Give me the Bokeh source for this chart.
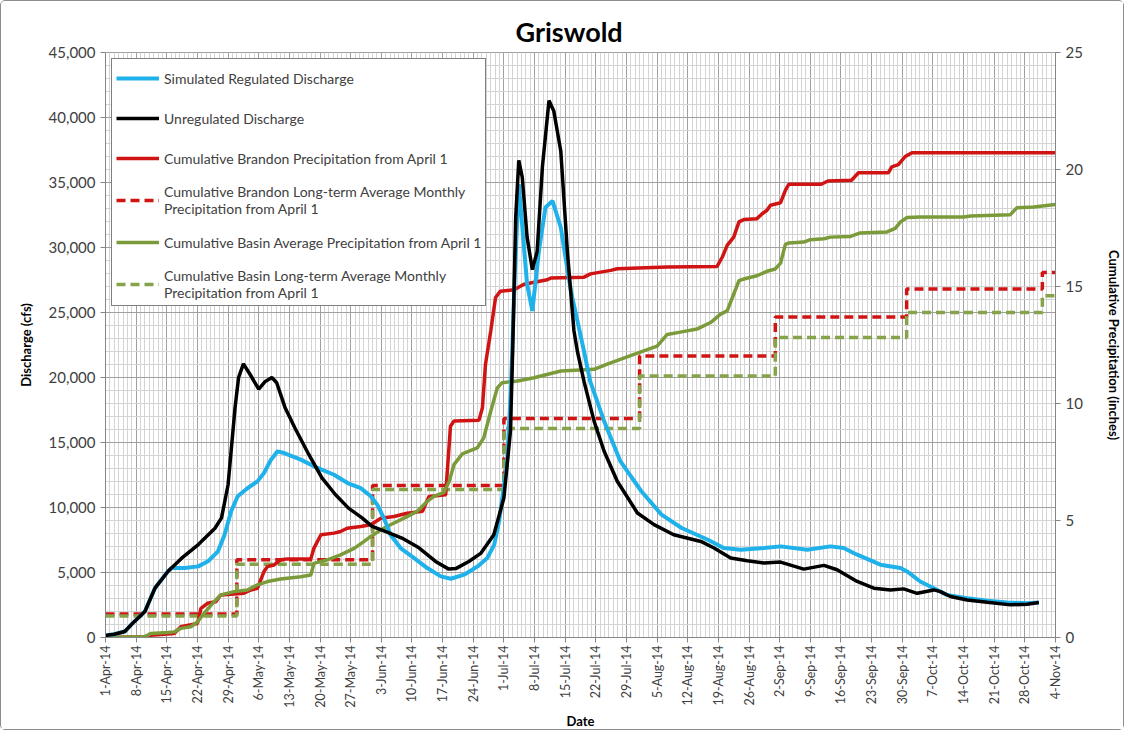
import math
from bokeh.plotting import figure
from bokeh.models import (Range1d, LinearAxis, FixedTicker, SingleIntervalTicker,
                          NumeralTickFormatter, Legend, LegendItem)
from bokeh.embed import file_html
from bokeh.resources import INLINE

# ---------------- data (x = days since 1-Apr-2014) ----------------
DATE_LABELS = ["1-Apr-14", "8-Apr-14", "15-Apr-14", "22-Apr-14", "29-Apr-14", "6-May-14",
               "13-May-14", "20-May-14", "27-May-14", "3-Jun-14", "10-Jun-14", "17-Jun-14",
               "24-Jun-14", "1-Jul-14", "8-Jul-14", "15-Jul-14", "22-Jul-14", "29-Jul-14",
               "5-Aug-14", "12-Aug-14", "19-Aug-14", "26-Aug-14", "2-Sep-14", "9-Sep-14",
               "16-Sep-14", "23-Sep-14", "30-Sep-14", "7-Oct-14", "14-Oct-14", "21-Oct-14",
               "28-Oct-14", "4-Nov-14"]

unreg_day = [0, 2, 4.4, 6.5, 9, 11.3, 14.3, 17.4, 21.2, 25, 26.5, 28, 29.6, 30.4, 31.5, 33, 35,
             36.5, 38, 39.1, 41, 43.3, 46.4, 49.4, 52.5, 55.5, 58.6, 60.9, 63.9, 67.7, 71.6,
             75.4, 78.4, 80, 83, 85.7, 88.7, 91, 92.5, 93, 93.7, 94.4, 95.2, 96.3, 97.5, 98.6,
             99.8, 101.3, 102.4, 104, 105.5, 107, 107.8, 109.3, 111.6, 113.9, 116.9, 121.5,
             125.3, 129.8, 136, 139, 142.8, 146.6, 150.4, 154.2, 159.5, 164.1, 167.1, 171.7,
             175.5, 179.3, 182.3, 185.4, 189.2, 190.7, 193, 196.8, 201.4, 206.7, 210.5, 213.2]
unreg_cfs = [150, 250, 460, 1200, 2000, 3800, 5100, 6100, 7150, 8400, 9200, 11750, 17700, 20000,
             21050, 20250, 19100, 19700, 20000, 19600, 17700, 16100, 14100, 12300, 11000, 9950,
             9200, 8550, 8170, 7650, 6900, 5850, 5260, 5300, 5850, 6470, 7900, 10730, 15870,
             22000, 32300, 36700, 35400, 30800, 28300, 29700, 36200, 41300, 40500, 37400, 29700,
             23600, 22000, 19700, 16640, 14330, 12020, 9580, 8680, 7900, 7390, 6880, 6110, 5910,
             5730, 5800, 5260, 5550, 5210, 4310, 3790, 3660, 3740, 3400, 3660, 3530, 3150, 2890,
             2710, 2510, 2560, 2690]

reg_day = [0, 2, 4.4, 6.5, 9, 11.3, 14.3, 15, 18.1, 21.2, 23.4, 25.7, 27.2, 28.7, 30.2, 32.5,
           34.7, 36.2, 37.8, 39.3, 40.8, 44.6, 47.6, 52.2, 55.3, 58.3, 60.6, 62.1, 63.6, 65.1,
           67.4, 70.5, 73.5, 76.6, 78.9, 81.9, 85, 87.2, 88.8, 89.9, 91.7, 92.6, 93.5, 94.4,
           96.3, 97.5, 99, 100.5, 102.1, 104, 106.3, 109.3, 110.7, 113.9, 117.6, 122.4, 127,
           131.6, 137.6, 141.2, 145.1, 150.4, 154.2, 160.3, 165.6, 168.6, 171.7, 177, 181.6,
           183.1, 186.1, 189.2, 192.2, 196.8, 201.4, 205.9, 210.5, 213.2]
reg_cfs = [150, 250, 460, 1200, 2000, 3800, 5100, 5340, 5340, 5470, 5860, 6630, 7910, 9710,
           10860, 11500, 12010, 12650, 13680, 14320, 14190, 13680, 13170, 12520, 11880, 11490,
           10860, 10200, 9170, 7900, 6880, 6110, 5340, 4700, 4520, 4830, 5470, 6110, 7140, 8930,
           13300, 19000, 28000, 34880, 27180, 25120, 29740, 33080, 33590, 31540, 26660, 22030,
           19720, 16640, 13560, 11250, 9450, 8420, 7520, 6880, 6750, 6880, 7010, 6750, 7010,
           6880, 6370, 5600, 5340, 5080, 4310, 3790, 3280, 3020, 2820, 2690, 2640, 2690]

brandon_day = [0, 9, 10.3, 15.7, 17.2, 21, 21.8, 23.3, 25.2, 26.3, 31.6, 33.2, 34.7, 36.2, 37,
               38.5, 40, 41.6, 46.9, 47.6, 49.2, 52.2, 53.7, 55.2, 58.3, 60.6, 62.9, 65.9, 68.9,
               72.4, 73.9, 77.7, 78.8, 79.6, 85.3, 86.1, 86.8, 88, 89.1, 90.2, 93.3, 95.6, 100.9,
               101.7, 109.3, 110.8, 115.4, 116.9, 128.3, 139.7, 140.9, 142, 143.5, 144.7, 145.8,
               148.8, 150, 151.1, 151.9, 154.2, 155.3, 156.1, 163.5, 165, 170.4, 172, 178.8,
               179.6, 181.1, 182.6, 184.2, 217]
brandon_in = [0, 0.03, 0.1, 0.17, 0.46, 0.6, 1.24, 1.46, 1.53, 1.82, 1.89, 2.03, 2.1, 2.82,
              3.03, 3.1, 3.32, 3.36, 3.36, 3.81, 4.39, 4.46, 4.53, 4.67, 4.74, 4.82, 5.1, 5.17,
              5.31, 5.39, 6.03, 6.1, 9.03, 9.25, 9.28, 9.82, 11.68, 13.1, 14.53, 14.8, 14.86,
              15.1, 15.29, 15.36, 15.4, 15.54, 15.69, 15.76, 15.83, 15.86, 16.26, 16.76, 17.11,
              17.76, 17.86, 17.9, 18.11, 18.26, 18.47, 18.58, 19.11, 19.37, 19.37, 19.51, 19.54,
              19.86, 19.86, 20.11, 20.21, 20.54, 20.72, 20.72]

basin_day = [0, 9, 10.3, 14.2, 15.7, 17.2, 19.5, 21, 22.5, 24.8, 26.3, 29.4, 32.4, 34.7, 37,
             40, 44.6, 46.9, 47.6, 50.7, 53.7, 56.8, 59, 60.6, 62.9, 65.1, 68.2, 71.2, 73.5, 75,
             77.3, 78.5, 79.6, 81.5, 84.9, 86.4, 88, 89.5, 90.6, 94.1, 97.9, 104, 111.6, 114.6,
             117.6, 121.5, 126, 128.3, 131.3, 135.1, 138.2, 140.5, 142, 143.2, 144.7, 145.8,
             148.8, 151.1, 153, 154.2, 155.3, 156.1, 159.5, 161, 164.1, 165.6, 170.2, 172.4,
             178.5, 180.4, 181.6, 183.1, 186.1, 196, 197.6, 206.7, 208.2, 212, 217]
basin_in = [0, 0.03, 0.17, 0.21, 0.24, 0.39, 0.46, 0.67, 1.03, 1.53, 1.82, 1.96, 2.03, 2.25,
            2.39, 2.5, 2.6, 2.67, 3.17, 3.32, 3.53, 3.81, 4.1, 4.32, 4.6, 4.82, 5.1, 5.39, 5.82,
            6.03, 6.2, 6.67, 7.39, 7.85, 8.1, 8.53, 9.67, 10.67, 10.89, 10.96, 11.1, 11.39,
            11.46, 11.68, 11.89, 12.15, 12.45, 12.95, 13.05, 13.18, 13.46, 13.82, 13.96, 14.53,
            15.25, 15.32, 15.46, 15.65, 15.75, 16.0, 16.8, 16.86, 16.9, 17.0, 17.04, 17.11,
            17.14, 17.29, 17.33, 17.48, 17.76, 17.95, 17.97, 17.97, 18.01, 18.07, 18.37, 18.4,
            18.5]

# long-term average monthly precipitation, cumulative, stepping at each month start
month_day = [0, 30, 61, 91, 122, 153, 183, 214, 217]
brandon_lt_in = [1.0, 3.32, 6.50, 9.36, 12.03, 13.70, 14.89, 15.60, 15.60]
basin_lt_in = [0.92, 3.13, 6.32, 8.93, 11.17, 12.82, 13.89, 14.60, 14.60]

# ---------------- styling ----------------
FONT = "Lato"
C_REG = "#1EB1EA"
C_UNREG = "#000000"
C_RED = "#D01414"
C_GREEN = "#7B9B3A"
C_GREEN_D = "#86A34C"
TXT = "#404040"
AX = "#868686"

p = figure(width=1124, height=730, output_backend="svg", toolbar_location=None,
           x_range=Range1d(0, 217), y_range=Range1d(0, 45000),
           min_border_left=104, min_border_right=70, min_border_top=51, min_border_bottom=94,
           x_axis_label="Date", y_axis_label="Discharge (cfs)",
           background_fill_color="white", border_fill_color="white")
p.styles = {"border": "1px solid #8c8c8c", "border-radius": "5px"}

p.title.text = "Griswold"
p.title.align = "left"
p.title.offset = 410
p.title.text_font = FONT
p.title.text_font_size = "27px"
p.title.text_font_style = "bold"
p.title.text_color = "#000000"

p.extra_y_ranges = {"precip": Range1d(0, 25)}
right_axis = LinearAxis(y_range_name="precip", axis_label="Cumulative Precipitation (inches)",
                        ticker=SingleIntervalTicker(interval=5, num_minor_ticks=0))
p.add_layout(right_axis, "right")

tick_days = [7 * i for i in range(len(DATE_LABELS))]
x_ticker = FixedTicker(ticks=tick_days, minor_ticks=list(range(0, tick_days[-1] + 1)))
p.xaxis.ticker = x_ticker
p.xgrid.ticker = x_ticker
p.xaxis.major_label_overrides = {d: lab for d, lab in zip(tick_days, DATE_LABELS)}
p.xaxis.major_label_orientation = math.pi / 2

y_ticker = SingleIntervalTicker(interval=5000, num_minor_ticks=5)
p.yaxis[0].ticker = y_ticker
p.ygrid.ticker = y_ticker
p.yaxis[0].formatter = NumeralTickFormatter(format="0,0")

for ax in [p.xaxis[0], p.yaxis[0], right_axis]:
    ax.axis_line_color = AX
    ax.major_tick_line_color = AX
    ax.major_tick_out = 5
    ax.major_tick_in = 0
    ax.minor_tick_line_color = None
    ax.major_label_text_font = FONT
    ax.major_label_text_color = TXT
    ax.axis_label_text_font = FONT
    ax.axis_label_text_font_style = "bold"
    ax.axis_label_text_font_size = "13px"
    ax.axis_label_text_color = "#000000"
p.yaxis[0].major_label_text_font_size = "15px"
right_axis.major_label_text_font_size = "15px"
p.xaxis.major_label_text_font_size = "12.5px"
p.xaxis.major_label_standoff = 3
p.xaxis.axis_label_standoff = 2
p.yaxis[0].axis_label_standoff = 12
right_axis.axis_label_standoff = 20

p.xgrid.grid_line_color = "#a0a0a0"
p.xgrid.minor_grid_line_color = "#d4d4d4"
p.ygrid.grid_line_color = "#a0a0a0"
p.ygrid.minor_grid_line_color = "#d4d4d4"
p.outline_line_color = "#a0a0a0"

LW = 3.5
# precipitation series (secondary axis)
r_bl = p.step(month_day, brandon_lt_in, mode="after", y_range_name="precip",
              line_color=C_RED, line_width=LW, line_dash="9 5")
r_gl = p.step(month_day, basin_lt_in, mode="after", y_range_name="precip",
              line_color=C_GREEN_D, line_width=LW, line_dash="9 5")
r_b = p.line(brandon_day, brandon_in, y_range_name="precip", line_color=C_RED, line_width=LW)
r_g = p.line(basin_day, basin_in, y_range_name="precip", line_color=C_GREEN, line_width=LW)
# discharge series
r_reg = p.line(reg_day, reg_cfs, line_color=C_REG, line_width=LW + 0.5)
r_unreg = p.line(unreg_day, unreg_cfs, line_color=C_UNREG, line_width=LW)

legend = Legend(items=[
    LegendItem(label="Simulated Regulated Discharge", renderers=[r_reg]),
    LegendItem(label="Unregulated Discharge", renderers=[r_unreg]),
    LegendItem(label="Cumulative Brandon Precipitation from April 1", renderers=[r_b]),
    LegendItem(label="Cumulative Brandon Long-term Average Monthly\nPrecipitation from April 1",
               renderers=[r_bl]),
    LegendItem(label="Cumulative Basin Average Precipitation from April 1", renderers=[r_g]),
    LegendItem(label="Cumulative Basin Long-term Average Monthly\nPrecipitation from April 1",
               renderers=[r_gl]),
], location="top_left")
legend.margin = 6
legend.padding = 4
legend.spacing = 10
legend.label_height = 30
legend.glyph_height = 20
legend.glyph_width = 43
legend.label_standoff = 5
legend.label_text_font = FONT
legend.label_text_font_size = "14px"
legend.label_text_line_height = 1.05
legend.label_text_color = TXT
legend.border_line_color = "#000000"
legend.border_line_width = 1
legend.background_fill_color = "white"
legend.background_fill_alpha = 1.0
p.add_layout(legend)

open("out.html", "w").write(file_html(p, INLINE))
